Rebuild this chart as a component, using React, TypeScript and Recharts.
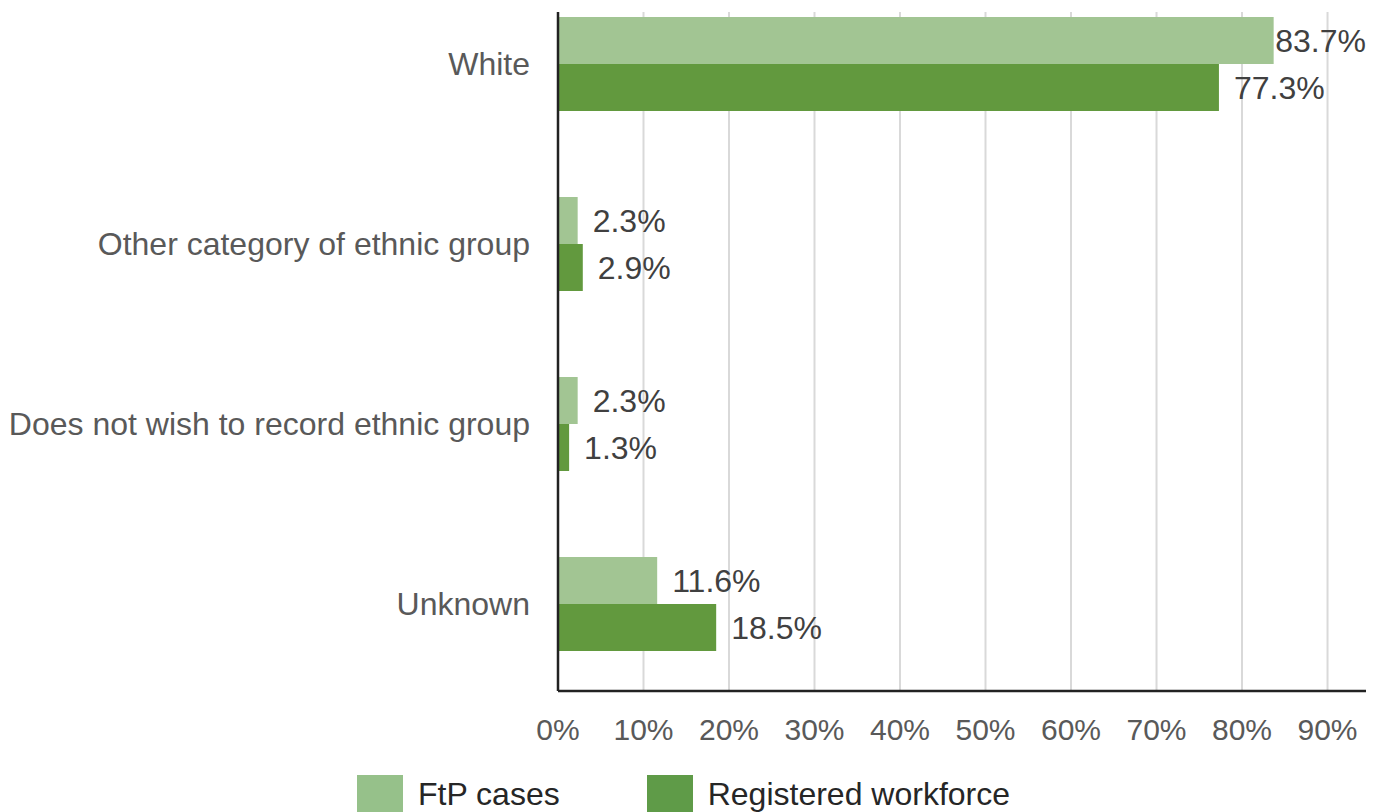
import React from "react";
import { BarChart, Bar, XAxis, YAxis, CartesianGrid, LabelList } from "recharts";

const categories = [
  "White",
  "Other category of ethnic group",
  "Does not wish to record ethnic group",
  "Unknown",
];
const ftpCases = [83.7, 2.3, 2.3, 11.6];
const registeredWorkforce = [77.3, 2.9, 1.3, 18.5];
const xTicks = [0, 10, 20, 30, 40, 50, 60, 70, 80, 90];
const xMax = 94.5;
const seriesNames = ["FtP cases", "Registered workforce"];

const barColors = ["#a2c593", "#62993e"];
const legendColors = ["#96c18a", "#5f9b48"];

const data = categories.map((c, i) => ({
  category: c,
  ftp: ftpCases[i],
  reg: registeredWorkforce[i],
}));

const FONT = "'Liberation Sans', Arial, sans-serif";
const PLOT_RIGHT = 1366;

const charW: Record<string, number> = { ".": 0.278, "%": 0.889 };
const textWidth = (s: string, size: number) =>
  s.split("").reduce((a, ch) => a + (charW[ch] ?? 0.556), 0) * size;

const ValueLabel = (props: any) => {
  const { x, y, width, height, value } = props;
  const text = `${value}%`;
  const fs = 32;
  const w = textWidth(text, fs);
  let tx = x + width + 15;
  if (tx + w > PLOT_RIGHT) tx = PLOT_RIGHT - w;
  return (
    <text
      x={tx}
      y={y + height / 2}
      dominantBaseline="central"
      fontSize={fs}
      fontFamily={FONT}
      fill="#404040"
    >
      {text}
    </text>
  );
};

const gridGen = (p: any) => {
  const sc = p?.xAxis?.scale;
  if (typeof sc === "function") return xTicks.slice(1).map((t) => sc(t));
  if (sc && typeof sc.map === "function") return xTicks.slice(1).map((t) => sc.map(t));
  const off = p.offset;
  return xTicks.slice(1).map((t) => off.left + (t / xMax) * off.width);
};

export default function App() {
  return (
    <div
      style={{
        position: "absolute",
        left: 0,
        top: 0,
        width: 1382,
        height: 812,
        overflow: "hidden",
        background: "#fff",
        fontFamily: FONT,
      }}
    >
      <BarChart
        width={1382}
        height={812}
        data={data}
        layout="vertical"
        margin={{ top: 12, right: 16, bottom: 61, left: 0 }}
        barGap={0}
      >
        <CartesianGrid
          horizontal={false}
          vertical={true}
          stroke="#d9d9d9"
          strokeWidth={2}
          verticalCoordinatesGenerator={gridGen}
        />
        <XAxis
          type="number"
          domain={[0, xMax]}
          ticks={xTicks}
          tickFormatter={(v: number) => `${v}%`}
          tickLine={false}
          tickSize={0}
          tickMargin={28}
          height={60}
          axisLine={{ stroke: "#222", strokeWidth: 2.5 }}
          tick={{ fontSize: 30, fill: "#595959", fontFamily: FONT }}
          allowDataOverflow
          interval={0}
        />
        <YAxis
          type="category"
          dataKey="category"
          width={558}
          tickLine={false}
          tickSize={0}
          tickMargin={28}
          padding={{ top: -38, bottom: -3 }}
          axisLine={{ stroke: "#222", strokeWidth: 2.5 }}
          tick={{ fontSize: 32, fill: "#595959", fontFamily: FONT }}
          interval={0}
        />
        <Bar dataKey="ftp" name={seriesNames[0]} fill={barColors[0]} barSize={47} isAnimationActive={false}>
          <LabelList dataKey="ftp" content={<ValueLabel />} />
        </Bar>
        <Bar dataKey="reg" name={seriesNames[1]} fill={barColors[1]} barSize={47} isAnimationActive={false}>
          <LabelList dataKey="reg" content={<ValueLabel />} />
        </Bar>
      </BarChart>
      <div
        style={{
          position: "absolute",
          left: 357,
          top: 775,
          display: "flex",
          alignItems: "flex-start",
        }}
      >
        {seriesNames.map((n, i) => (
          <div
            key={n}
            style={{ display: "flex", alignItems: "flex-start", marginRight: i === 0 ? 87 : 0 }}
          >
            <div style={{ width: 46, height: 46, background: legendColors[i] }} />
            <span
              style={{
                marginLeft: 15,
                fontSize: 32,
                lineHeight: "38px",
                color: "#262626",
                whiteSpace: "nowrap",
              }}
            >
              {n}
            </span>
          </div>
        ))}
      </div>
    </div>
  );
}
